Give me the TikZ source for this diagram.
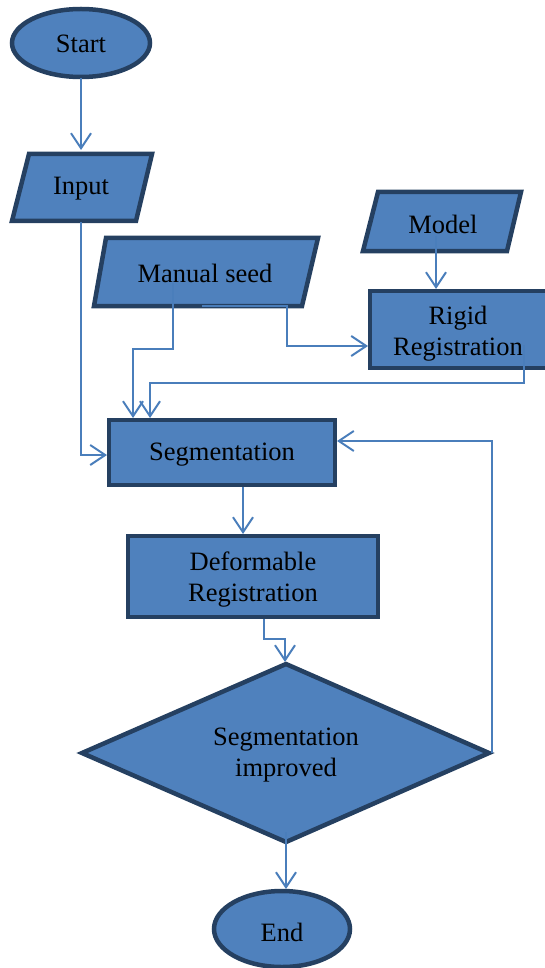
\documentclass[tikz,border=0pt]{standalone}
\usepackage{fontspec}
\setmainfont{Liberation Serif}
\newfontfamily\tnrfont{Liberation Serif}
\usetikzlibrary{arrows.meta}
\definecolor{fillblue}{HTML}{4F81BD}
\definecolor{edgeblue}{HTML}{254061}
\definecolor{lineblue}{HTML}{4A7EBB}
\begin{document}
\begin{tikzpicture}[x=1pt,y=-1pt,
  shapebox/.style={fill=fillblue,draw=edgeblue,line width=4.5pt,line join=miter},
  lbl/.style={font=\tnrfont\fontsize{26.5}{31}\selectfont,align=center,inner sep=0pt},
  conn/.style={draw=lineblue,line width=2pt,-{Straight Barb[length=15pt,width=20pt,line width=2pt]}}]
\useasboundingbox (0,0) rectangle (545,968);
% shapes
\draw[shapebox] (81,43) ellipse [x radius=69pt, y radius=34pt];
\draw[shapebox] (29,154) -- (152,154) -- (136,221) -- (12,221) -- cycle;
\draw[shapebox] (106,238) -- (318,238) -- (302,306) -- (94,306) -- cycle;
\draw[shapebox] (378,192) -- (521,192) -- (507,251) -- (363,251) -- cycle;
\draw[shapebox] (370,291) rectangle (547,368);
\draw[shapebox] (109,420) rectangle (335,485);
\draw[shapebox] (128,536) rectangle (378,617);
\draw[shapebox] (286,664) -- (489,753) -- (286,842) -- (82,753) -- cycle;
\draw[shapebox] (282,929) ellipse [x radius=68pt, y radius=38pt];
% labels
\node[lbl] (start) at (81,44) {Start};
\node[lbl] (input) at (81,189) {Input};
\node[lbl] (seed) at (205,273) {Manual seed};
\node[lbl] (model) at (443,224) {Model};
\node[lbl] (rigid) at (458,334) {Rigid\\Registration};
\node[lbl] (seg) at (222,455) {Segmentation};
\node[lbl] (deform) at (253,580) {Deformable\\Registration};
\node[lbl] (improved) at (286,755) {Segmentation\\improved};
\node[lbl] (end) at (282,932) {End};
% connector points
\coordinate (startB) at (81,78);
\coordinate (inputT) at (81,150);
\coordinate (inputB) at (81,222);
\coordinate (segL) at (107,455);
\coordinate (seedA) at (173,283);
\coordinate (segT1) at (133,418);
\coordinate (seedB) at (202,306);
\coordinate (rigidL) at (368,346);
\coordinate (modelA) at (436,236);
\coordinate (rigidT) at (436,289);
\coordinate (rigidA) at (524,345);
\coordinate (segT2) at (150,418);
\coordinate (segB) at (243,487);
\coordinate (deformT) at (243,534);
\coordinate (deformB) at (264,619);
\coordinate (dtop) at (285,662);
\coordinate (dright) at (492,753);
\coordinate (segR) at (337,441);
\coordinate (dbot) at (286,832);
\coordinate (endT) at (286,889);
% connectors
\draw[conn] (startB) -- (inputT);
\draw[conn] (inputB) |- (segL);
\draw[conn] (seedA) -- (173,349) -| (segT1);
\draw[conn] (seedB) -- (287,306) |- (rigidL);
\draw[conn] (modelA) -- (rigidT);
\draw[conn] (rigidA) -- (524,383) -| (segT2);
\draw[conn] (segB) -- (deformT);
\draw[conn] (deformB) -- (264,639) -| (dtop);
\draw[conn] (dright) |- (segR);
\draw[conn] (dbot) -- (endT);
\end{tikzpicture}
\end{document}
